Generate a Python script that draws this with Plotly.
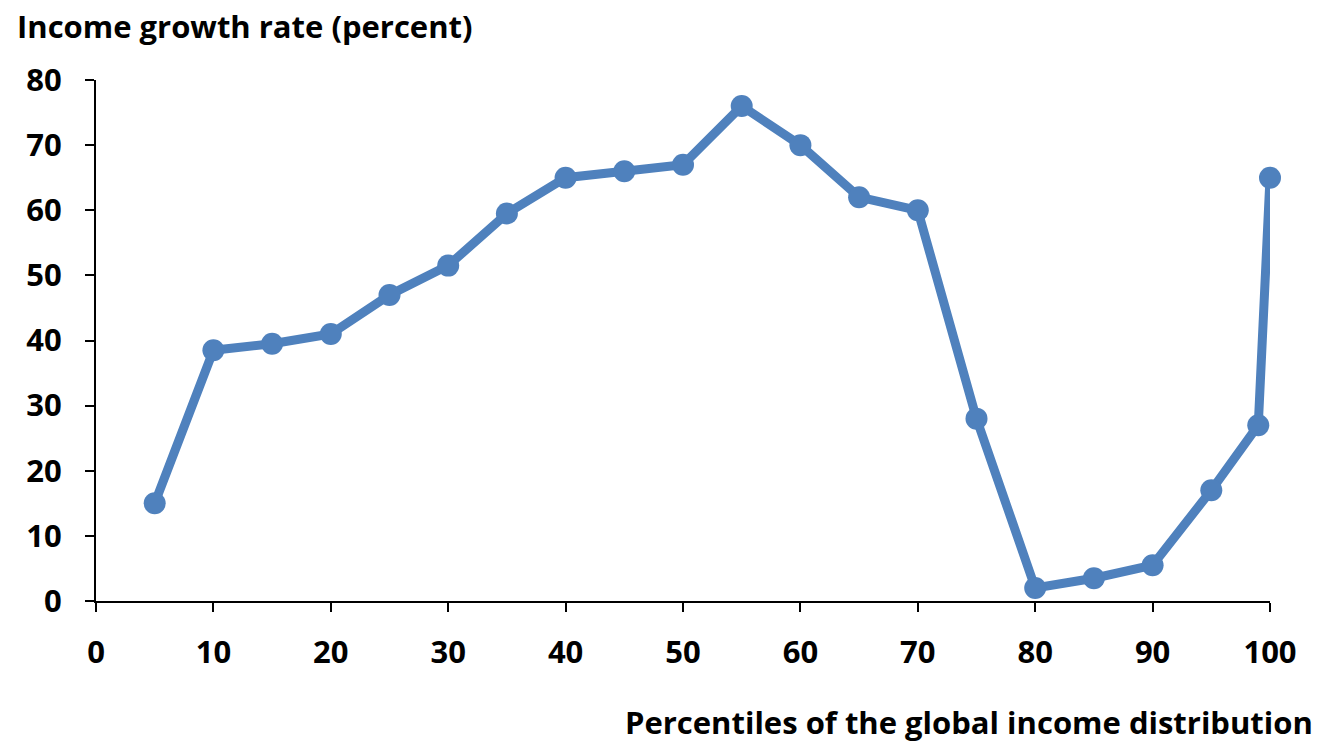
import plotly.graph_objects as go

percentiles = [5, 10, 15, 20, 25, 30, 35, 40, 45, 50, 55, 60, 65, 70, 75, 80, 85, 90, 95, 99, 100]
growth = [15, 38.5, 39.5, 41, 47, 51.5, 59.5, 65, 66, 67, 76, 70, 62, 60, 28, 2, 3.5, 5.5, 17, 27, 65]
x_ticks = [0, 10, 20, 30, 40, 50, 60, 70, 80, 90, 100]
y_ticks = [0, 10, 20, 30, 40, 50, 60, 70, 80]

FONT = "'Open Sans', Calibri, sans-serif"
color = "#4F81BD"

fig = go.Figure(go.Scatter(
    x=percentiles, y=growth, mode="lines+markers",
    line=dict(color=color, width=9),
    marker=dict(color=color, size=22),
    cliponaxis=False,
    showlegend=False,
))

fig.update_layout(
    width=1321, height=742,
    margin=dict(l=96, r=51, t=80, b=141),
    paper_bgcolor="white", plot_bgcolor="white",
    font=dict(family=FONT, size=24, color="black"),
    xaxis=dict(range=[0, 100], tickvals=x_ticks, showgrid=False, zeroline=False,
               showline=True, linecolor="black", linewidth=2,
               ticks="outside", ticklen=9, tickwidth=1.5, tickcolor="black",
               tickfont=dict(family=FONT, size=31, color="black", weight="bold"),
               ticklabelstandoff=14),
    yaxis=dict(range=[0, 80], tickvals=y_ticks, showgrid=False, zeroline=False,
               showline=True, linecolor="black", linewidth=2,
               ticks="outside", ticklen=9, tickwidth=1.5, tickcolor="black",
               tickfont=dict(family=FONT, size=31, color="black", weight="bold"),
               ticklabelstandoff=17),
    annotations=[
        dict(text="<b>Income growth rate (percent)</b>", xref="paper", yref="paper",
             x=0, y=1.0, xanchor="left", yanchor="middle", xshift=-81, yshift=54, showarrow=False,
             font=dict(family=FONT, size=31, color="black")),
        dict(text="<b>Percentiles of the global income distribution</b>", xref="paper", yref="paper",
             x=1, y=0, xanchor="right", yanchor="middle", xshift=45, yshift=-121, showarrow=False,
             font=dict(family=FONT, size=31, color="black")),
    ],
)

fig.write_html("out.html", config={"displayModeBar": False},
               post_script="document.body.style.margin='0';document.body.style.overflow='hidden';")
